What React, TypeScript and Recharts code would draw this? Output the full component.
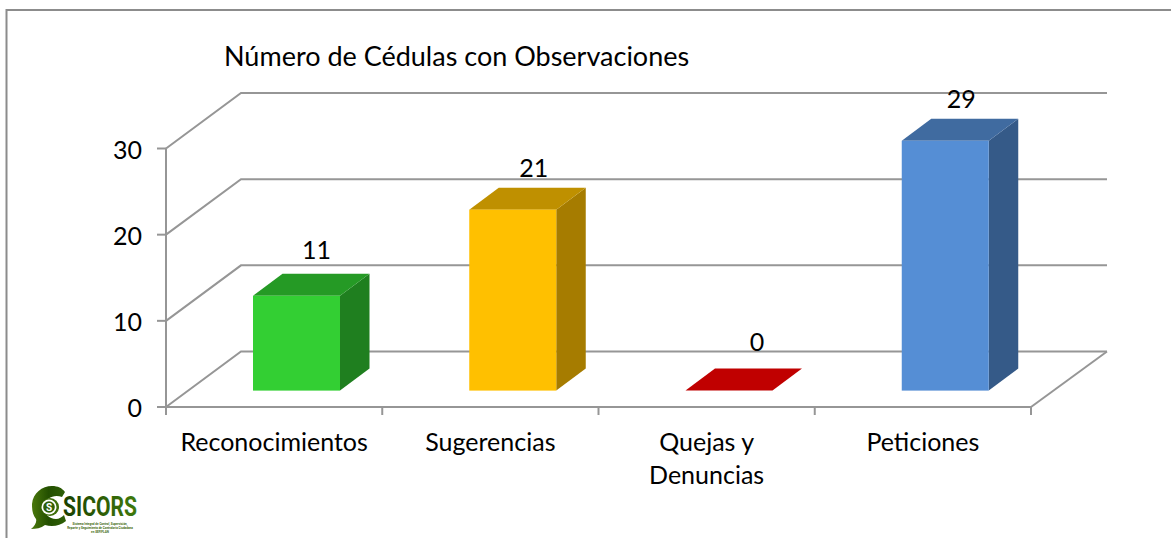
import React from "react";
import { BarChart, Bar, XAxis, YAxis, CartesianGrid, LabelList, Cell } from "recharts";

const categories = ["Reconocimientos", "Sugerencias", "Quejas y\nDenuncias", "Peticiones"];
const observaciones = [11, 21, 0, 29];
const yTicks = [0, 10, 20, 30];

const frontColors = ["#33CF33", "#FFC000", "#C00000", "#558ED5"];
const topColors = ["#259A25", "#BF9000", "#C00000", "#406BA0"];
const sideColors = ["#1F7F1F", "#A67C00", "#C00000", "#355A88"];

// small nudges so the value labels sit where the original has them
const labelShiftX = [0, 1, 8, -4];
const labelLift = [45, 41, 48, 41];

const data = categories.map((name, i) => ({ name, value: observaciones[i] }));

const WIDTH = 1171;
const HEIGHT = 538;
const PLOT_LEFT = 166;
const PLOT_RIGHT = 1031;
const PLOT_TOP = 148.5;
const PLOT_BOTTOM = 407;
const FONT = "Lato, sans-serif";
const GRID = "#969696";

// 3D look: the floor runs back by this much, bars sit in the middle of it
const DEPTH_X = 75;
const DEPTH_Y = -55.5;
const BAR_SHIFT_X = 22;
const BAR_SHIFT_Y = -16.4;
const BAR_DEPTH_X = 29.5;
const BAR_DEPTH_Y = -22;

const GridLine = (props: any) => {
  const { x1, y1, x2, y2 } = props;
  const backY = y1 + DEPTH_Y;
  const isFloor = Math.abs(y1 - PLOT_BOTTOM) < 1;
  return (
    <g>
      <polyline
        points={`${x1},${y1} ${x1 + DEPTH_X},${backY} ${x2 + DEPTH_X + 1},${backY}`}
        fill="none"
        stroke={GRID}
        strokeWidth={2}
      />
      {isFloor && (
        <line x1={x2} y1={y2} x2={x2 + DEPTH_X + 1} y2={backY} stroke={GRID} strokeWidth={2} />
      )}
    </g>
  );
};

const Bar3D = (props: any) => {
  const { x, y, width, height, index } = props;
  const left = x + BAR_SHIFT_X;
  const right = left + width;
  const top = y + BAR_SHIFT_Y;
  const bottom = top + height;
  const dx = BAR_DEPTH_X;
  const dy = BAR_DEPTH_Y;
  return (
    <g>
      <polygon
        points={`${right},${top} ${right + dx},${top + dy} ${right + dx},${bottom + dy} ${right},${bottom}`}
        fill={sideColors[index]}
      />
      <polygon
        points={`${left},${top} ${left + dx},${top + dy} ${right + dx},${top + dy} ${right},${top}`}
        fill={topColors[index]}
      />
      {height > 0 && <rect x={left} y={top} width={width} height={height} fill={frontColors[index]} />}
    </g>
  );
};

const ValueLabel = (props: any) => {
  const { x, y, width, value, index } = props;
  return (
    <text
      x={x + BAR_SHIFT_X + width / 2 + 20 + labelShiftX[index]}
      y={y + BAR_SHIFT_Y - labelLift[index] + 8}
      textAnchor="middle"
      fontFamily={FONT}
      fontSize={25}
      fill="#000"
    >
      {value}
    </text>
  );
};

const CategoryTick = (props: any) => {
  const { x, payload, index } = props;
  const step = (PLOT_RIGHT - PLOT_LEFT) / categories.length;
  const lines = String(payload.value).split("\n");
  const isLast = index === categories.length - 1;
  return (
    <g>
      <line x1={x - step / 2} y1={PLOT_BOTTOM} x2={x - step / 2} y2={PLOT_BOTTOM + 8} stroke={GRID} strokeWidth={2} />
      {isLast && (
        <line x1={x + step / 2} y1={PLOT_BOTTOM} x2={x + step / 2} y2={PLOT_BOTTOM + 8} stroke={GRID} strokeWidth={2} />
      )}
      {lines.map((line, i) => (
        <text
          key={line}
          x={x}
          y={PLOT_BOTTOM + 44 + i * 33}
          textAnchor="middle"
          fontFamily={FONT}
          fontSize={25}
          fill="#000"
        >
          {line}
        </text>
      ))}
    </g>
  );
};

const Logo = () => (
  <g>
    <defs>
      <linearGradient id="logoGreen" x1="0" y1="0" x2="1" y2="0">
        <stop offset="0" stopColor="#4C7A0C" />
        <stop offset="0.5" stopColor="#234F00" />
        <stop offset="1" stopColor="#2F5F06" />
      </linearGradient>
      <linearGradient id="logoText" x1="0" y1="0" x2="1" y2="0">
        <stop offset="0" stopColor="#1A4000" />
        <stop offset="1" stopColor="#3F7A0C" />
      </linearGradient>
    </defs>
    <path
      d="M31 529 C35 526 37 522 36 519 C32 514 32 508 32 504 C33 493 42 486 52 486 C58 486 62 488 65 492 L62 497 C54 494 46 498 44 505 C43 512 48 519 56 519 C59 519 62 517 64 515 L66 521 C60 526 52 527 45 525 C41 528 36 529 31 529 Z"
      fill="url(#logoGreen)"
    />
    <circle cx="50" cy="507" r="9" fill="#3E6E0A" />
    <circle cx="49" cy="507" r="7.5" fill="#fff" />
    <circle cx="49" cy="507" r="5.8" fill="#2F5F06" />
    <text x="49" y="510.5" textAnchor="middle" fontFamily="Roboto, sans-serif" fontWeight={700} fontSize={10} fill="#fff">
      S
    </text>
    <text
      x="63"
      y="516"
      fontFamily="Roboto, sans-serif"
      fontWeight={700}
      fontSize={27}
      fill="url(#logoText)"
      textLength={74}
      lengthAdjust="spacingAndGlyphs"
    >
      SICORS
    </text>
    <g fontFamily="Roboto, sans-serif" fontWeight={700} fontSize={3} fill="#3F6B12" textAnchor="middle">
      <text x="100" y="525">Sistema Integral de Control, Supervisión,</text>
      <text x="100" y="528.8">Reporte y Seguimiento de Contraloría Ciudadana</text>
      <text x="100" y="532.6">en SEFIPLAN</text>
    </g>
  </g>
);

export default function App() {
  return (
    <div style={{ position: "absolute", left: 0, top: 0, width: WIDTH, height: HEIGHT, background: "#fff", overflow: "hidden" }}>
      <BarChart
        width={WIDTH}
        height={HEIGHT}
        data={data}
        margin={{ top: PLOT_TOP, right: WIDTH - PLOT_RIGHT, bottom: 0, left: 0 }}
      >
        <polyline points={`6.5,${HEIGHT} 6.5,10 ${WIDTH},10`} fill="none" stroke="#8C8C8C" strokeWidth={2} />
        <text x={224} y={66} fontFamily={FONT} fontSize={27} fill="#000">
          Número de Cédulas con Observaciones
        </text>
        <CartesianGrid horizontal={GridLine} vertical={false} />
        <XAxis
          dataKey="name"
          height={HEIGHT - PLOT_BOTTOM}
          interval={0}
          tickLine={false}
          axisLine={{ stroke: GRID, strokeWidth: 2 }}
          tick={CategoryTick}
        />
        <YAxis
          width={PLOT_LEFT}
          domain={[0, 30]}
          ticks={yTicks}
          tickSize={9}
          tickMargin={15}
          axisLine={{ stroke: GRID, strokeWidth: 2 }}
          tickLine={{ stroke: GRID, strokeWidth: 2 }}
          tick={{ fontFamily: FONT, fontSize: 25, fill: "#000", dy: 1.5 }}
        />
        <Bar dataKey="value" barSize={87} isAnimationActive={false} shape={Bar3D}>
          {data.map((d, i) => (
            <Cell key={d.name} fill={frontColors[i]} />
          ))}
          <LabelList dataKey="value" content={ValueLabel} />
        </Bar>
        <Logo />
      </BarChart>
    </div>
  );
}
